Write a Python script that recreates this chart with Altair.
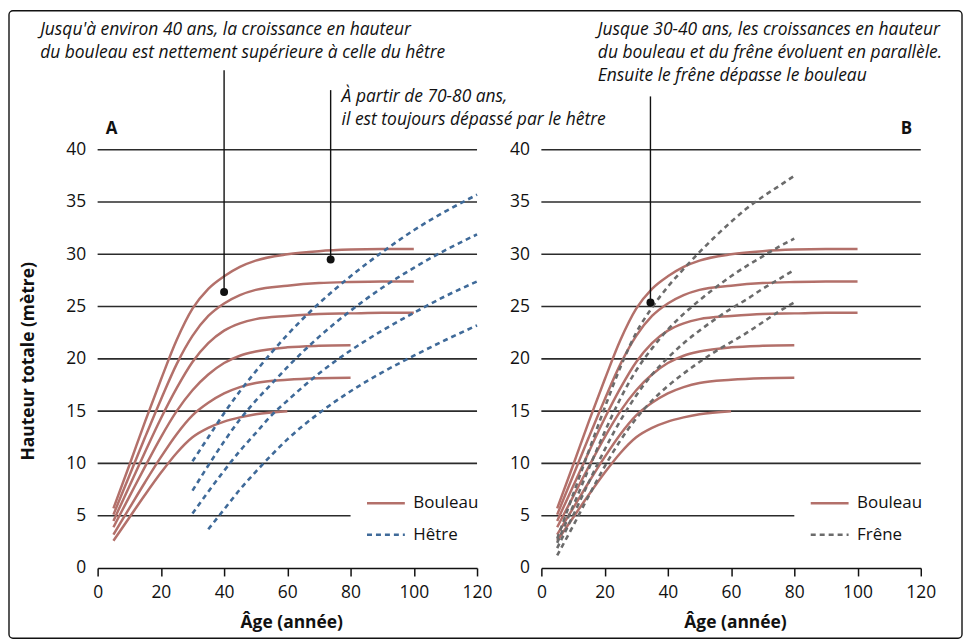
import altair as alt
import pandas as pd

FONT = "Open Sans"
BIRCH_COLOR = "#b3706a"
BEECH_COLOR = "#3f6a99"
ASH_COLOR = "#6b6b6b"
INK = "#111111"
GRID_COLOR = "#2b2b2b"

# ---------------- data ----------------
BIRCH_AGES = [5, 10, 15, 20, 25, 30, 35, 40, 45, 50, 60, 70, 80, 90, 100]
BIRCH_1 = [5.7, 9.8, 14.0, 18.0, 21.8, 24.8, 26.7, 27.9, 28.8, 29.4, 30.0, 30.3, 30.45, 30.5, 30.5]
BIRCH_2 = [5.1, 8.8, 12.5, 16.1, 19.5, 22.2, 24.1, 25.3, 26.1, 26.6, 27.0, 27.25, 27.35, 27.4, 27.4]
BIRCH_3 = [4.5, 7.8, 11.1, 14.3, 17.2, 19.7, 21.5, 22.7, 23.4, 23.8, 24.1, 24.3, 24.35, 24.4, 24.4]
BIRCH_4 = [3.9, 6.8, 9.7, 12.5, 15.0, 17.0, 18.5, 19.6, 20.3, 20.7, 21.1, 21.25, 21.3]
BIRCH_5 = [3.2, 5.7, 8.2, 10.6, 12.8, 14.6, 15.8, 16.7, 17.3, 17.7, 18.0, 18.15, 18.2]
BIRCH_6 = [2.6, 4.8, 7.0, 9.1, 11.0, 12.5, 13.4, 14.0, 14.4, 14.7, 15.0]

BEECH_AGES = [30, 35, 40, 45, 50, 55, 60, 70, 80, 90, 100, 110, 120]
BEECH_1 = [10.2, 12.5, 14.8, 16.9, 18.8, 20.6, 22.3, 25.3, 27.9, 30.2, 32.3, 34.1, 35.7]
BEECH_2 = [7.4, 9.8, 12.1, 14.2, 16.0, 17.6, 19.2, 22.1, 24.6, 26.8, 28.7, 30.4, 31.9]
BEECH_3 = [5.2, 7.3, 9.3, 11.2, 12.9, 14.6, 16.0, 18.6, 20.8, 22.7, 24.4, 26.0, 27.4]
BEECH_4_AGES = [35, 40, 45, 50, 55, 60, 70, 80, 90, 100, 110, 120]
BEECH_4 = [3.7, 5.6, 7.5, 9.2, 10.8, 12.3, 14.8, 16.9, 18.7, 20.3, 21.8, 23.2]

ASH_AGES = [5, 10, 15, 20, 25, 30, 35, 40, 45, 50, 55, 60, 65, 70, 75, 80]
ASH_1 = [2.8, 7.0, 11.2, 15.3, 19.2, 22.5, 24.9, 26.9, 28.6, 30.2, 31.7, 33.1, 34.4, 35.5, 36.5, 37.5]
ASH_2 = [2.4, 5.9, 9.5, 13.0, 16.2, 18.9, 21.0, 22.8, 24.3, 25.6, 26.8, 27.9, 28.9, 29.8, 30.7, 31.5]
ASH_3 = [1.9, 5.0, 8.2, 11.3, 14.1, 16.5, 18.5, 20.1, 21.5, 22.7, 23.8, 24.8, 25.7, 26.7, 27.6, 28.5]
ASH_4 = [1.2, 4.0, 6.9, 9.7, 12.2, 14.3, 16.0, 17.4, 18.6, 19.7, 20.7, 21.6, 22.5, 23.5, 24.5, 25.4]

X_TICKS = [0, 20, 40, 60, 80, 100, 120]
Y_TICKS = [0, 5, 10, 15, 20, 25, 30, 35, 40]
GRID_FULL = [10, 15, 20, 25, 30, 35, 40]
GRID_SHORT = [5]

# annotation anchors (age, height of dot, height of leader top)
NOTE_A_AGE = [40, 73.7]
NOTE_A_H = [26.4, 29.5]
NOTE_A_TOP = [47.6, 45.7]
NOTE_B_AGE = [34.5]
NOTE_B_H = [25.4]
NOTE_B_TOP = [45.1]

TEXT_A1 = "Jusqu'à environ 40 ans, la croissance en hauteur\ndu bouleau est nettement supérieure à celle du hêtre"
TEXT_A2 = "À partir de 70-80 ans,\nil est toujours dépassé par le hêtre"
TEXT_B = ("Jusque 30-40 ans, les croissances en hauteur\n"
          "du bouleau et du frêne évoluent en parallèle.\n"
          "Ensuite le frêne dépasse le bouleau")

LEGEND_A = ["Bouleau", "Hêtre"]
LEGEND_B = ["Bouleau", "Frêne"]
Y_TITLE = "Hauteur totale (mètre)"
X_TITLE = "Âge (année)"


def curves(age_lists, h_lists, name):
    rows = []
    for i, (ages, hs) in enumerate(zip(age_lists, h_lists)):
        for a, h in zip(ages, hs):
            rows.append({"curve": f"{name}{i}", "age": a, "h": h})
    return pd.DataFrame(rows)


birch_df = curves([BIRCH_AGES] * 6, [BIRCH_1, BIRCH_2, BIRCH_3, BIRCH_4, BIRCH_5, BIRCH_6], "b")
beech_df = curves([BEECH_AGES, BEECH_AGES, BEECH_AGES, BEECH_4_AGES],
                  [BEECH_1, BEECH_2, BEECH_3, BEECH_4], "h")
ash_df = curves([ASH_AGES] * 4, [ASH_1, ASH_2, ASH_3, ASH_4], "f")

W, H = 381, 420
xs = alt.Scale(domain=[0, 120], nice=False, zero=False)
ys = alt.Scale(domain=[0, 40], nice=False, zero=False)

one = pd.DataFrame({"k": [0]})


def x_axis():
    return alt.Axis(values=X_TICKS, title=X_TITLE, grid=False, domain=True,
                    domainColor=INK, domainWidth=1.5, ticks=True, tickSize=8,
                    tickWidth=1.5, tickColor=INK, labelFont=FONT, labelFontSize=17.5,
                    labelColor=INK, labelPadding=8, labelFlush=False,
                    titleFont=FONT, titleFontSize=17.5, titleFontWeight="bold",
                    titleColor=INK, titleX=194.5, titleY=60, titleBaseline="alphabetic")


def y_axis(with_title):
    kw = dict(values=Y_TICKS, grid=False, domain=False, ticks=False, tickSize=0,
              labelFont=FONT, labelFontSize=17.5, labelColor=INK, labelPadding=12)
    if with_title:
        kw.update(title=Y_TITLE, titleFont=FONT, titleFontSize=17.5, titleFontWeight="bold",
                  titleColor=INK, titleX=-64, titleY=212, titleBaseline="alphabetic")
    else:
        kw.update(title=None)
    return alt.Axis(**kw)


def panel(dashed_df, dashed_color, legend_names, notes, texts, letter, with_ytitle, border):
    XA = x_axis()
    YA = y_axis(with_ytitle)
    X = lambda f: alt.X(f, type="quantitative", scale=xs, axis=XA)
    Y = lambda f: alt.Y(f, type="quantitative", scale=ys, axis=YA)

    grid_full = alt.Chart(pd.DataFrame({"g": GRID_FULL})).mark_rule(
        color=GRID_COLOR, strokeWidth=1.6).encode(
        x=alt.XDatum(0, type="quantitative", scale=xs, axis=XA), x2=alt.X2Datum(120), y=Y("g"))
    grid_short = alt.Chart(pd.DataFrame({"g": GRID_SHORT})).mark_rule(
        color=GRID_COLOR, strokeWidth=1.6).encode(
        x=alt.XDatum(0, type="quantitative", scale=xs, axis=XA), x2=alt.X2Datum(80), y=Y("g"))

    birch = alt.Chart(birch_df).mark_line(
        color=BIRCH_COLOR, strokeWidth=2.5, interpolate="monotone").encode(
        x=X("age"), y=Y("h"), detail="curve:N")

    dashed = alt.Chart(dashed_df).mark_line(
        color=dashed_color, strokeWidth=2.6, strokeDash=[5, 4],
        interpolate="monotone").encode(x=X("age"), y=Y("h"), detail="curve:N")

    ndf = pd.DataFrame({"age": notes[0], "h": notes[1], "top": notes[2]})
    leaders = alt.Chart(ndf).mark_rule(color=INK, strokeWidth=1.4).encode(
        x=X("age"), y=Y("top"), y2="h")
    dots = alt.Chart(ndf).mark_circle(color=INK, opacity=1, size=64).encode(
        x=X("age"), y=Y("h"))

    layers = [grid_full, grid_short, birch, dashed, leaders, dots]

    for txt, px, py in texts:
        layers.append(alt.Chart(pd.DataFrame({"t": [txt]})).mark_text(
            font=FONT, fontSize=17.5, fontStyle="italic", color=INK, align="left",
            baseline="alphabetic", lineBreak="\n", lineHeight=23).encode(
            text="t:N", x=alt.value(px), y=alt.value(py)))

    # legend
    leg_rows = [(legend_names[0], 355, BIRCH_COLOR, None),
                (legend_names[1], 386.7, dashed_color, [5, 4])]
    for name, ly, col, dash in leg_rows:
        kw = dict(color=col, strokeWidth=2.6)
        if dash:
            kw["strokeDash"] = dash
        layers.append(alt.Chart(one).mark_rule(**kw).encode(
            x=alt.value(270.5), x2=alt.value(308.5), y=alt.value(ly)))
        layers.append(alt.Chart(pd.DataFrame({"t": [name]})).mark_text(
            font=FONT, fontSize=17, color=INK, align="left", baseline="middle").encode(
            text="t:N", x=alt.value(317), y=alt.value(ly)))

    layers.append(alt.Chart(pd.DataFrame({"t": [letter[0]]})).mark_text(
        font=FONT, fontSize=17, fontWeight="bold", color=INK, align="center",
        baseline="alphabetic").encode(text="t:N", x=alt.value(letter[1]), y=alt.value(-16)))

    if border:
        layers.append(alt.Chart(one).mark_rect(
            fillOpacity=0, stroke=INK, strokeWidth=1.4, cornerRadius=4).encode(
            x=alt.value(-89), x2=alt.value(868), y=alt.value(-139.6), y2=alt.value(490.5)))

    return alt.layer(*layers).properties(width=W, height=H)


panel_a = panel(beech_df, BEECH_COLOR, LEGEND_A,
                (NOTE_A_AGE, NOTE_A_H, NOTE_A_TOP),
                [(TEXT_A1, -57.7, -115.5), (TEXT_A2, 245, -47.5)],
                ("A", 14), True, True)
panel_b = panel(ash_df, ASH_COLOR, LEGEND_B,
                (NOTE_B_AGE, NOTE_B_H, NOTE_B_TOP),
                [(TEXT_B, 56.7, -115.5)],
                ("B", 366.5), False, False)

chart = alt.hconcat(panel_a, panel_b, spacing=64.6, bounds="flush").properties(
    padding=0).configure_view(stroke=None)

chart.save("out.html", embed_options={"renderer": "svg", "actions": False})
